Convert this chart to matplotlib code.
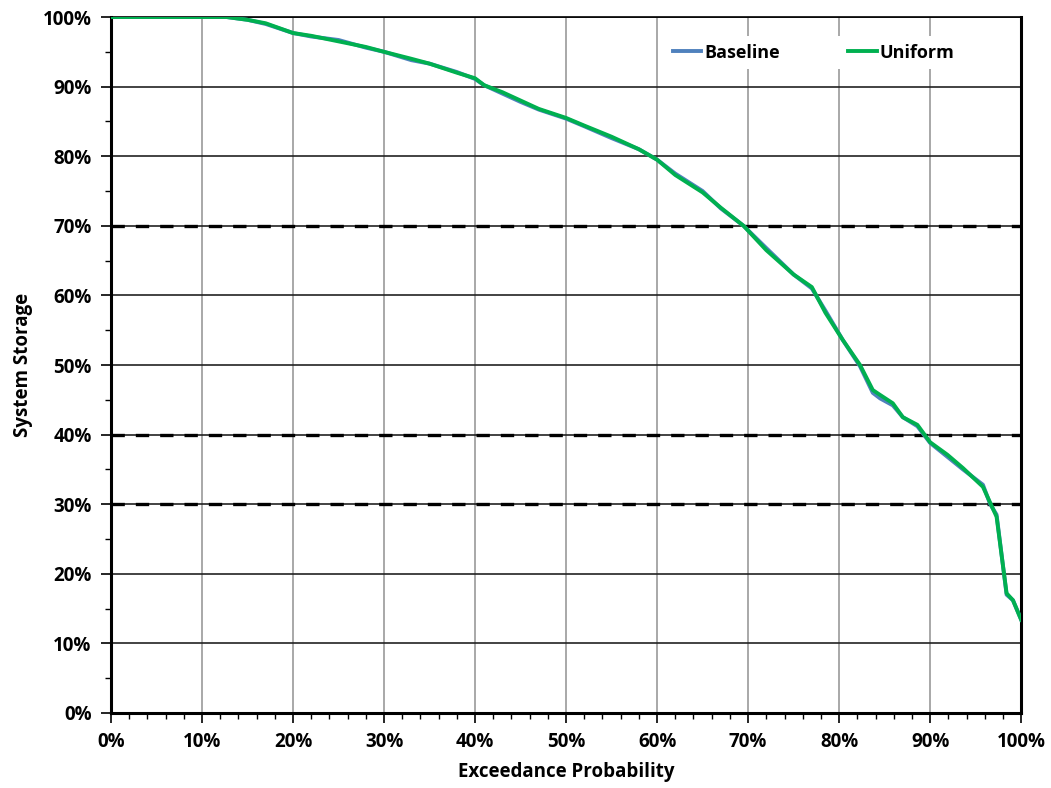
import numpy as np
import matplotlib.pyplot as plt
from matplotlib.ticker import MultipleLocator, PercentFormatter

# exceedance curve (percent)
prob = [0, 5, 10, 12.7, 15, 17, 20, 22, 25, 28, 30, 33, 35, 38, 40, 41, 43, 45,
        47, 50, 52, 55, 58, 60, 62, 65, 67, 69.5, 72, 75, 77, 78.5, 80.4, 82.3,
        83.7, 84.5, 85.9, 87, 88.6, 90, 91.9, 93.6, 95.8, 96.6, 97.3, 98.4, 99.1, 100]
uniform = [100, 100, 100, 100, 99.6, 99.1, 97.7, 97.3, 96.5, 95.7, 95.0, 94.0, 93.3,
           92.0, 91.2, 90.2, 89.2, 88.0, 86.8, 85.5, 84.4, 82.8, 81.0, 79.5, 77.3,
           74.8, 72.6, 70.0, 66.5, 63.0, 61.2, 57.5, 53.6, 50.0, 46.4, 45.7, 44.5,
           42.5, 41.4, 38.9, 37.1, 35.2, 32.5, 30.2, 28.2, 17.2, 16.2, 13.4]
baseline = [100, 100, 100, 100, 99.6, 99.0, 97.7, 97.2, 96.7, 95.6, 95.0, 93.8, 93.3,
            92.1, 91.1, 90.2, 89.0, 87.8, 86.7, 85.4, 84.3, 82.6, 81.0, 79.5, 77.5,
            75.0, 72.5, 70.0, 66.8, 63.0, 61.0, 57.8, 53.6, 49.8, 46.0, 45.2, 44.2,
            42.5, 41.2, 38.8, 36.8, 35.0, 32.8, 30.0, 28.5, 17.0, 16.2, 13.4]
thresholds = [70, 40, 30]

plt.rcParams['font.family'] = ['Open Sans', 'DejaVu Sans']
plt.rcParams['font.weight'] = 'bold'

fig = plt.figure(figsize=(10.51, 7.88), dpi=100)
ax = fig.add_axes([0.1056, 0.0952, 0.866, 0.8832])

for t in thresholds:
    ax.axhline(t, color='black', lw=2.4, ls=(0, (4, 3.3)), zorder=2)

ax.plot(prob, baseline, color='#4F81BD', lw=2.8, label='Baseline', zorder=3)
ax.plot(prob, uniform, color='#00B050', lw=2.8, label='Uniform', zorder=4)

ax.set_xlim(0, 100)
ax.set_ylim(0, 100)
ax.xaxis.set_major_locator(MultipleLocator(10))
ax.xaxis.set_minor_locator(MultipleLocator(2))
ax.yaxis.set_major_locator(MultipleLocator(10))
ax.yaxis.set_minor_locator(MultipleLocator(5))
ax.xaxis.set_major_formatter(PercentFormatter(decimals=0))
ax.yaxis.set_major_formatter(PercentFormatter(decimals=0))
ax.tick_params(which='major', length=7, width=1.2, labelsize=13.5, pad=7)
ax.tick_params(which='minor', length=4, width=1)
for lbl in ax.get_xticklabels() + ax.get_yticklabels():
    lbl.set_fontweight('bold')

ax.grid(axis='x', which='major', color='#999999', lw=1.2, zorder=1)
ax.grid(axis='y', which='major', color='#222222', lw=1.2, zorder=1)
for side in ['left', 'bottom', 'right']:
    ax.spines[side].set_linewidth(2.2)
ax.spines['top'].set_linewidth(1.2)

ax.set_xlabel('Exceedance Probability', fontsize=13.5, fontweight='bold', labelpad=7)
ax.set_ylabel('System Storage', fontsize=13.5, fontweight='bold', labelpad=7)

leg = ax.legend(loc='upper right', ncol=2, frameon=True, fancybox=False,
                edgecolor='none', framealpha=1, fontsize=13, handlelength=1.6,
                handletextpad=0.15, columnspacing=3.8, bbox_to_anchor=(0.945, 0.985))
for txt in leg.get_texts():
    txt.set_fontweight('bold')

fig.savefig('out.png', dpi=100)
